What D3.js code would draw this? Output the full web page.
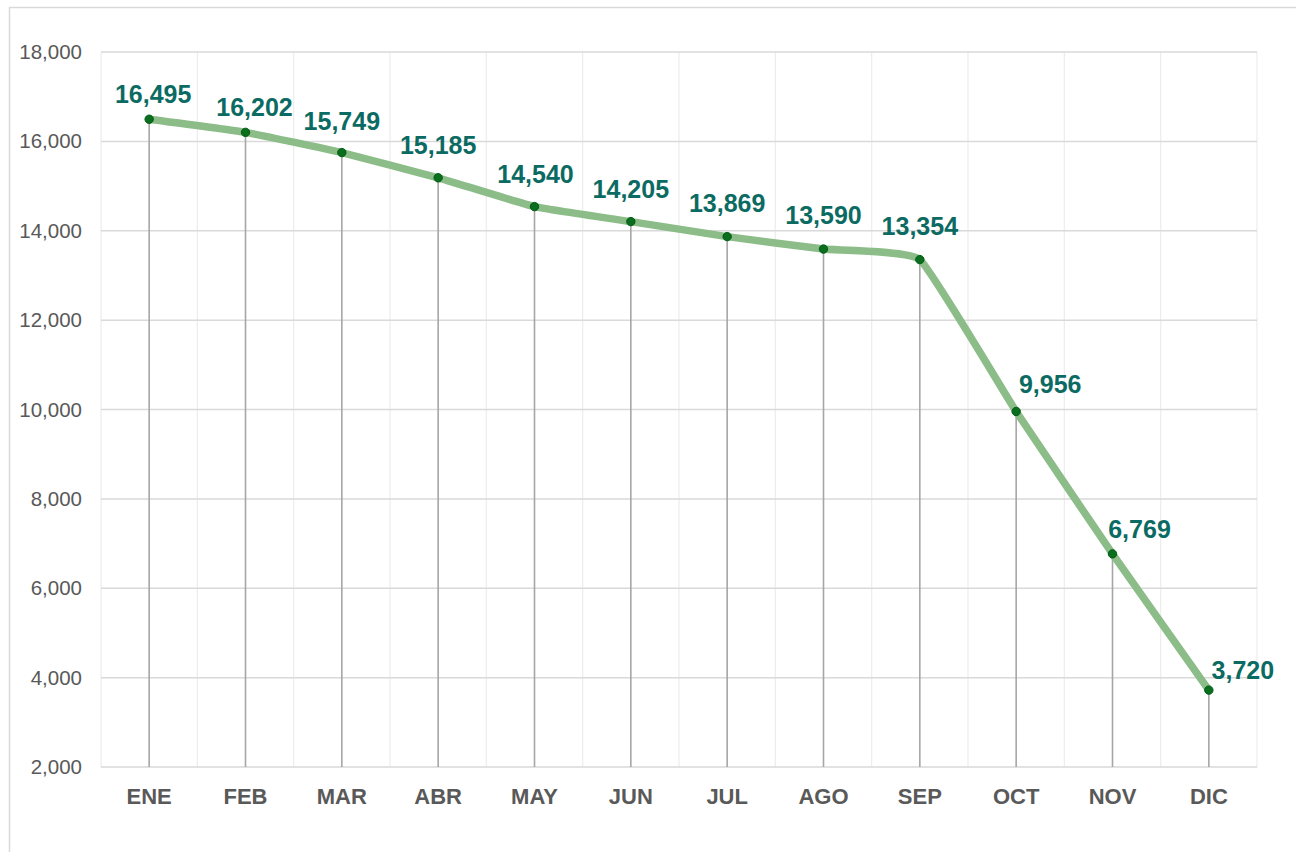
<!DOCTYPE HTML>
<html>

<head>
  <meta charset="utf-8">
  <title>d3</title>
  <script src="https://d3js.org/d3.v7.min.js"></script>
  <style>
    body { margin: 0; background: #fff; }
    text { font-family: Arial, "Liberation Sans", sans-serif; }
  </style>
</head>

<body>
  <script>
    // data
    const months = ['ENE', 'FEB', 'MAR', 'ABR', 'MAY', 'JUN', 'JUL', 'AGO', 'SEP', 'OCT', 'NOV', 'DIC'];
    const values = [16495, 16202, 15749, 15185, 14540, 14205, 13869, 13590, 13354, 9956, 6769, 3720];
    const yTicks = [2000, 4000, 6000, 8000, 10000, 12000, 14000, 16000, 18000];
    // label nudges (px) as placed in the original
    const labelShift = [[4, -16], [9, -16], [0, -23], [0, -24], [1, -24], [0, -24], [0, -25], [0, -25], [0, -25], [34, -18], [27, -16], [34, -11]];

    const W = 1296, H = 852;
    const m = { left: 101, right: 39, top: 52, bottom: 85 };

    const svg = d3.select('body').append('svg')
      .attr('width', W)
      .attr('height', H);

    svg.append('rect')
      .attr('x', 9.5).attr('y', 7.5)
      .attr('width', W).attr('height', H)
      .attr('fill', 'none')
      .attr('stroke', '#d9d9d9')
      .attr('stroke-width', 1.5);

    const x = d3.scaleBand()
      .domain(months)
      .range([m.left, W - m.right]);

    const y = d3.scaleLinear()
      .domain([2000, 18000])
      .range([H - m.bottom, m.top]);

    const g = svg.append('g');

    // light vertical gridlines (band edges)
    const edges = months.map(d => x(d)).concat([x.range()[1]]);
    g.selectAll('.vgrid')
      .data(edges)
      .join('line')
      .attr('x1', d => d).attr('x2', d => d)
      .attr('y1', y(18000)).attr('y2', y(2000))
      .attr('stroke', '#ececec')
      .attr('stroke-width', 1.2);

    // horizontal gridlines
    g.selectAll('.hgrid')
      .data(yTicks)
      .join('line')
      .attr('x1', m.left).attr('x2', W - m.right)
      .attr('y1', d => y(d)).attr('y2', d => y(d))
      .attr('stroke', '#d9d9d9')
      .attr('stroke-width', 1.5);

    // y axis labels
    const yAxis = svg.append('g')
      .attr('transform', `translate(${m.left - 19},0)`)
      .call(d3.axisLeft(y).tickValues(yTicks).tickSize(0).tickPadding(0).tickFormat(d3.format(',')));
    yAxis.select('.domain').remove();
    yAxis.selectAll('text')
      .attr('fill', '#595959')
      .style('font-size', '20.5px');

    // x axis labels
    const xAxis = svg.append('g')
      .attr('transform', `translate(0,${y(2000)})`)
      .call(d3.axisBottom(x).tickSize(0).tickPadding(21));
    xAxis.select('.domain').remove();
    xAxis.selectAll('text')
      .attr('fill', '#595959')
      .style('font-size', '22px')
      .style('font-weight', 'bold');

    const cx = d => x(d) + x.bandwidth() / 2;

    // drop lines
    g.selectAll('.drop')
      .data(values)
      .join('line')
      .attr('x1', (d, i) => cx(months[i])).attr('x2', (d, i) => cx(months[i]))
      .attr('y1', d => y(d)).attr('y2', y(2000))
      .attr('stroke', '#a6a6a6')
      .attr('stroke-width', 1.6);

    // smoothed line
    const line = d3.line()
      .x((d, i) => cx(months[i]))
      .y(d => y(d))
      .curve(d3.curveCardinal.tension(0.65));

    g.append('path')
      .datum(values)
      .attr('d', line)
      .attr('fill', 'none')
      .attr('stroke', '#8cbd88')
      .attr('stroke-width', 7.5)
      .attr('stroke-linejoin', 'round');

    // markers
    g.selectAll('.dot')
      .data(values)
      .join('circle')
      .attr('cx', (d, i) => cx(months[i]))
      .attr('cy', d => y(d))
      .attr('r', 4.2)
      .attr('fill', '#0a6e1e')
      .attr('stroke', '#005c14')
      .attr('stroke-width', 1);

    // data labels
    g.selectAll('.lbl')
      .data(values)
      .join('text')
      .attr('x', (d, i) => cx(months[i]) + labelShift[i][0])
      .attr('y', (d, i) => y(d) + labelShift[i][1])
      .attr('text-anchor', 'middle')
      .attr('fill', '#0b6b63')
      .style('font-size', '25px')
      .style('font-weight', 'bold')
      .text(d => d3.format(',')(d));
  </script>
</body>

</html>
